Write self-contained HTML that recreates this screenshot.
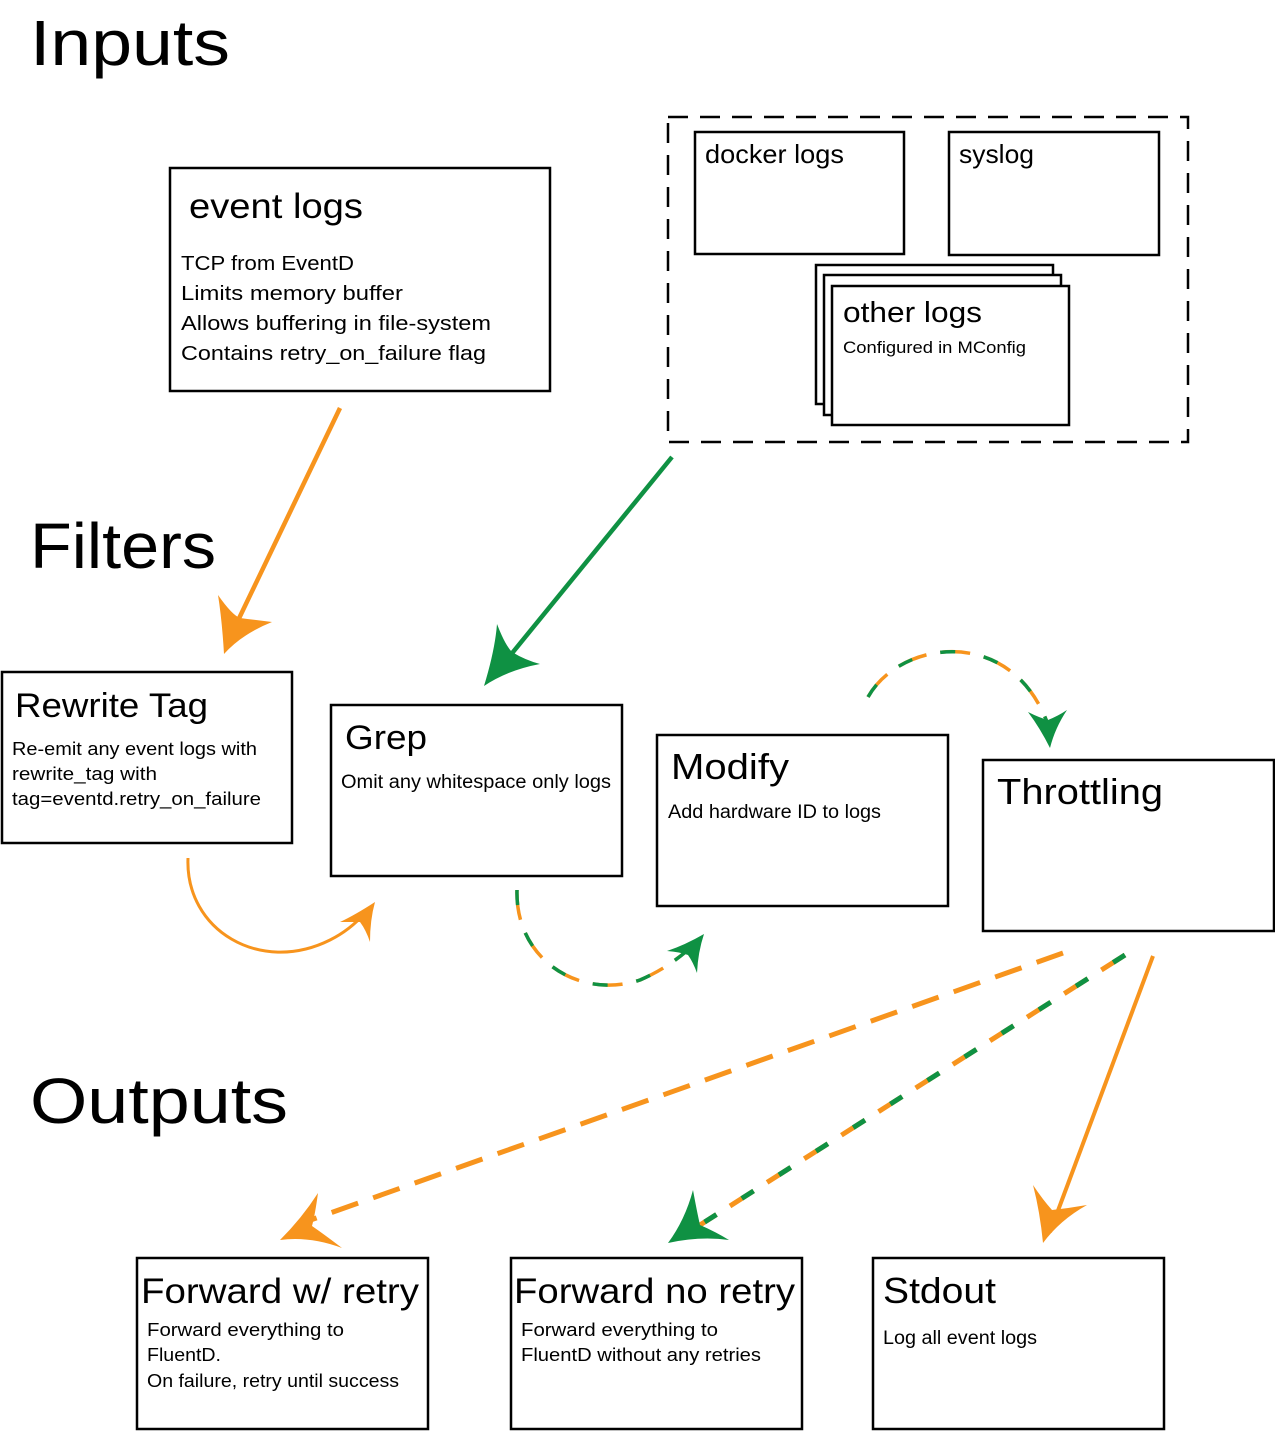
<!DOCTYPE html>
<html><head><meta charset="utf-8"><style>
html,body{margin:0;padding:0;background:#fff;}
svg{display:block;font-family:"Liberation Sans",sans-serif;}
</style></head><body>
<svg width="1275" height="1431" viewBox="0 0 1275 1431" xmlns="http://www.w3.org/2000/svg">
<g fill="#000">
<text x="30" y="65" font-size="64" textLength="200" lengthAdjust="spacingAndGlyphs">Inputs</text>
<text x="30" y="568" font-size="64" textLength="186" lengthAdjust="spacingAndGlyphs">Filters</text>
<text x="30" y="1123" font-size="64" textLength="258" lengthAdjust="spacingAndGlyphs">Outputs</text>
</g>
<g fill="#fff" stroke="#000" stroke-width="2.5">
<rect x="170" y="168" width="380" height="223"/>
<rect x="695" y="132" width="209" height="122"/>
<rect x="949" y="132" width="210" height="123"/>
<rect x="816" y="265" width="237" height="139"/>
<rect x="824" y="275" width="237" height="140"/>
<rect x="832" y="286" width="237" height="139"/>
<rect x="2" y="672" width="290" height="171"/>
<rect x="331" y="705" width="291" height="171"/>
<rect x="657" y="735" width="291" height="171"/>
<rect x="983" y="760" width="291" height="171"/>
<rect x="137" y="1258" width="291" height="171"/>
<rect x="511" y="1258" width="291" height="171"/>
<rect x="873" y="1258" width="291" height="171"/>
</g>
<rect x="668" y="117" width="520" height="325" fill="none" stroke="#000" stroke-width="2.5" stroke-dasharray="20 12"/>
<g fill="#000" lengthAdjust="spacingAndGlyphs">
<text x="189" y="218" font-size="35" textLength="174" lengthAdjust="spacingAndGlyphs">event logs</text>
<g font-size="20.5">
<text x="181" y="270" textLength="173" lengthAdjust="spacingAndGlyphs">TCP from EventD</text>
<text x="181" y="300" textLength="222" lengthAdjust="spacingAndGlyphs">Limits memory buffer</text>
<text x="181" y="330" textLength="310" lengthAdjust="spacingAndGlyphs">Allows buffering in file-system</text>
<text x="181" y="360" textLength="305" lengthAdjust="spacingAndGlyphs">Contains retry_on_failure flag</text></g>
<text x="705" y="163" font-size="26" textLength="139" lengthAdjust="spacingAndGlyphs">docker logs</text>
<text x="959" y="163" font-size="26" textLength="75" lengthAdjust="spacingAndGlyphs">syslog</text>
<text x="843" y="322" font-size="29" textLength="139" lengthAdjust="spacingAndGlyphs">other logs</text>
<text x="843" y="353" font-size="16.5" textLength="183" lengthAdjust="spacingAndGlyphs">Configured in MConfig</text>
<text x="15" y="717" font-size="34" textLength="193" lengthAdjust="spacingAndGlyphs">Rewrite Tag</text>
<g font-size="18.5">
<text x="12" y="755" textLength="245" lengthAdjust="spacingAndGlyphs">Re-emit any event logs with</text>
<text x="12" y="780" textLength="145" lengthAdjust="spacingAndGlyphs">rewrite_tag with</text>
<text x="12" y="805" textLength="249" lengthAdjust="spacingAndGlyphs">tag=eventd.retry_on_failure</text></g>
<text x="345" y="749" font-size="34" textLength="82" lengthAdjust="spacingAndGlyphs">Grep</text>
<text x="341" y="788" font-size="19" textLength="270" lengthAdjust="spacingAndGlyphs">Omit any whitespace only logs</text>
<text x="671" y="779" font-size="36" textLength="118" lengthAdjust="spacingAndGlyphs">Modify</text>
<text x="668" y="818" font-size="19" textLength="213" lengthAdjust="spacingAndGlyphs">Add hardware ID to logs</text>
<text x="997" y="804" font-size="36" textLength="166" lengthAdjust="spacingAndGlyphs">Throttling</text>
<text x="141" y="1303" font-size="35" textLength="278" lengthAdjust="spacingAndGlyphs">Forward w/ retry</text>
<g font-size="18.5">
<text x="147" y="1336" textLength="197" lengthAdjust="spacingAndGlyphs">Forward everything to</text>
<text x="147" y="1361" textLength="74" lengthAdjust="spacingAndGlyphs">FluentD.</text>
<text x="147" y="1387" textLength="252" lengthAdjust="spacingAndGlyphs">On failure, retry until success</text></g>
<text x="514" y="1303" font-size="35" textLength="281" lengthAdjust="spacingAndGlyphs">Forward no retry</text>
<g font-size="18.5">
<text x="521" y="1336" textLength="197" lengthAdjust="spacingAndGlyphs">Forward everything to</text>
<text x="521" y="1361" textLength="240" lengthAdjust="spacingAndGlyphs">FluentD without any retries</text></g>
<text x="883" y="1303" font-size="36" textLength="113" lengthAdjust="spacingAndGlyphs">Stdout</text>
<text x="883" y="1344" font-size="19" textLength="154" lengthAdjust="spacingAndGlyphs">Log all event logs</text>
</g>
<g fill="none" stroke-width="4.5">
<line x1="340" y1="408" x2="232" y2="633" stroke="#f7941d"/>
<line x1="672" y1="457" x2="500" y2="668" stroke="#0f9143"/>
<path d="M188,858 C185,930 260,975 330,940 Q350,930 365,913" stroke="#f7941d" stroke-width="3"/>
<path d="M517,890 C515,960 580,1000 640,980 Q668,968 690,948" stroke="#f7941d" stroke-width="3.5" stroke-dasharray="30 14"/>
<path d="M517,890 C515,960 580,1000 640,980 Q668,968 690,948" stroke="#0f9143" stroke-width="3.5" stroke-dasharray="15 29"/>
<path d="M868,697 C900,640 1010,625 1047,722" stroke="#f7941d" stroke-width="3.5" stroke-dasharray="30 14"/>
<path d="M868,697 C900,640 1010,625 1047,722" stroke="#0f9143" stroke-width="3.5" stroke-dasharray="15 29"/>
<line x1="1063" y1="953" x2="305" y2="1222" stroke="#f7941d" stroke-width="5" stroke-dasharray="28 16"/>
<line x1="1125" y1="955" x2="700" y2="1225" stroke="#f7941d" stroke-width="5" stroke-dasharray="28 16"/>
<line x1="1125" y1="955" x2="700" y2="1225" stroke="#0f9143" stroke-width="5" stroke-dasharray="14 30"/>
<line x1="1153" y1="956" x2="1050" y2="1232" stroke="#f7941d" stroke-width="4"/>
</g>
<g stroke="none">
<path d="M224,654 Q222,620 218,595 Q232,615 240,618 Q255,620 272,622 Q242,634 224,654Z" fill="#f7941d"/>
<path d="M484,686 Q495,650 497,624 Q505,645 512,652 Q525,660 540,664 Q508,670 484,686Z" fill="#0f9143"/>
<path d="M375,902 Q355,915 340,922 Q352,922 360,922 Q366,930 370,942 Q370,920 375,902Z" fill="#f7941d"/>
<path d="M704,934 Q685,945 667,951 Q680,952 688,955 Q693,962 697,973 Q698,952 704,934Z" fill="#0f9143"/>
<path d="M1050,748 Q1040,728 1028,712 Q1040,718 1048,720 Q1058,716 1067,710 Q1055,728 1050,748Z" fill="#0f9143"/>
<path d="M280,1240 Q302,1218 318,1193 Q315,1215 312,1226 Q325,1235 342,1248 Q310,1236 280,1240Z" fill="#f7941d"/>
<path d="M668,1243 Q685,1220 693,1190 Q697,1212 700,1225 Q716,1232 729,1240 Q700,1236 668,1243Z" fill="#0f9143"/>
<path d="M1043,1243 Q1040,1212 1033,1185 Q1043,1200 1052,1210 Q1070,1208 1087,1205 Q1060,1220 1043,1243Z" fill="#f7941d"/>
</g>
</svg>
</body></html>
